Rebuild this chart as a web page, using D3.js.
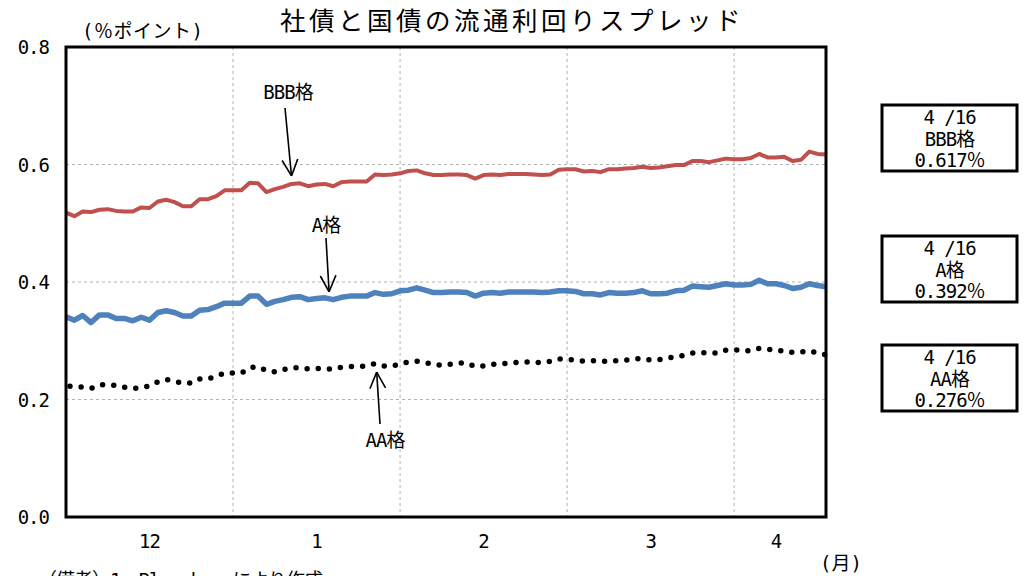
<!DOCTYPE html>
<html><head><meta charset="utf-8">
<script src="https://cdn.jsdelivr.net/npm/d3@7"></script>
<style>
body{margin:0;background:#fff}
svg text{font-family:"DejaVu Sans Mono","Noto Sans CJK JP",monospace;fill:#000}
</style>
</head><body>
<svg id="chart" width="1027" height="576"></svg>
<script>
// ---- data (business days, 12/1 .. 4/16) ----
const bbbSpread = [0.518,0.512,0.520,0.519,0.523,0.524,0.521,0.520,0.520,0.527,0.526,0.537,0.540,0.536,0.529,0.529,0.541,0.541,0.546,0.556,0.556,0.556,0.569,0.568,0.553,0.558,0.562,0.567,0.568,0.563,0.566,0.567,0.563,0.570,0.571,0.571,0.571,0.583,0.582,0.583,0.585,0.589,0.590,0.585,0.582,0.582,0.583,
0.583,0.582,0.576,0.582,0.583,0.582,0.584,0.584,0.584,0.583,0.582,0.583,0.591,0.592,0.592,0.588,0.589,0.587,0.592,0.592,0.593,0.594,0.596,0.594,0.595,0.597,0.599,0.599,0.606,0.606,0.604,0.607,0.610,0.609,0.609,0.611,0.618,0.612,0.612,0.613,0.606,0.608,0.622,0.618,0.617];
const aSpread = [0.341,0.335,0.343,0.331,0.344,0.344,0.338,0.338,0.334,0.340,0.335,0.348,0.351,0.348,0.342,0.342,0.352,0.353,0.358,0.364,0.364,0.364,0.376,0.376,0.362,0.367,0.370,0.374,0.375,0.370,0.372,0.373,0.370,0.374,0.376,0.376,0.376,0.382,0.379,0.380,0.385,0.386,0.390,0.386,0.382,0.382,0.383,
0.383,0.382,0.376,0.381,0.382,0.381,0.383,0.383,0.383,0.383,0.382,0.383,0.385,0.385,0.384,0.380,0.380,0.378,0.382,0.381,0.381,0.382,0.385,0.380,0.380,0.381,0.385,0.386,0.393,0.392,0.391,0.394,0.397,0.395,0.395,0.396,0.403,0.397,0.397,0.394,0.389,0.391,0.397,0.394,0.392];
const aaSpread = [0.223,0.222,0.221,0.219,0.225,0.225,0.224,0.221,0.219,0.220,0.223,0.230,0.234,0.231,0.228,0.228,0.235,0.235,0.240,0.245,0.245,0.245,0.254,0.256,0.249,0.247,0.251,0.254,0.254,0.252,0.253,0.252,0.252,0.255,0.256,0.256,0.257,0.261,0.257,0.257,0.260,0.264,0.265,0.263,0.260,0.258,
0.260,0.262,0.262,0.256,0.257,0.260,0.260,0.262,0.263,0.264,0.263,0.263,0.265,0.269,0.268,0.267,0.265,0.266,0.265,0.265,0.266,0.267,0.269,0.270,0.267,0.268,0.270,0.273,0.275,0.279,0.280,0.279,0.279,0.284,0.285,0.283,0.283,0.287,0.286,0.283,0.283,0.280,0.281,0.283,0.279,0.276];
const yTickValues = [0.0, 0.2, 0.4, 0.6, 0.8];
const monthLabels = ["12", "1", "2", "3", "4"];
const monthLabelIndex = [10, 30, 50, 70, 85];
const monthBoundaryIndex = [20, 40, 60, 80];
const latestDate = "4 /16";
const seriesNames = ["BBB格", "A格", "AA格"];
const latestValues = [0.617, 0.392, 0.276];

// ---- layout ----
const svg = d3.select("#chart");
const L = 66, R = 826, T = 47, B = 517;
const n = bbbSpread.length;
const x = d3.scaleLinear().domain([0, n - 1]).range([L, R]);
const y = d3.scaleLinear().domain([0, 0.8]).range([B, T]);
const FS = "19px", LS = "-1px";

// title
svg.append("text").attr("x", 512).attr("y", 30).attr("text-anchor", "middle")
  .style("font-family", "'Noto Sans CJK JP'").style("font-size", "25.5px").style("letter-spacing", "3.5px")
  .text("社債と国債の流通利回りスプレッド");
svg.append("text").attr("x", 82).attr("y", 38).style("font-size", "19px").style("letter-spacing", "0.5px")
  .text("(％ポイント)");

// grid
const g = svg.append("g");
g.selectAll("line.hg").data(yTickValues.filter(v => v > 0 && v < 0.8)).join("line")
  .attr("x1", L).attr("x2", R).attr("y1", d => y(d)).attr("y2", d => y(d))
  .attr("stroke", "#b0b0b0").attr("stroke-width", 1).attr("stroke-dasharray", "3,3");
g.selectAll("line.vg").data(monthBoundaryIndex).join("line")
  .attr("x1", d => x(d)).attr("x2", d => x(d)).attr("y1", T).attr("y2", B)
  .attr("stroke", "#b0b0b0").attr("stroke-width", 1).attr("stroke-dasharray", "3,3");

// y labels
svg.append("g").selectAll("text").data(yTickValues).join("text")
  .attr("x", 49).attr("y", d => y(d) + 7).attr("text-anchor", "end")
  .style("font-size", FS).style("letter-spacing", LS).text(d => d3.format(".1f")(d));
// x labels
svg.append("g").selectAll("text").data(monthLabels).join("text")
  .attr("x", (d, i) => x(monthLabelIndex[i])).attr("y", 548).attr("text-anchor", "middle")
  .style("font-size", FS).style("letter-spacing", LS).text(d => d);
svg.append("text").attr("x", 820).attr("y", 570).style("font-size", "19px").text("(月)");
svg.append("text").attr("x", 38).attr("y", 587).style("font-size", "19px").style("letter-spacing", LS)
  .text("（備考）1．Bloombergにより作成");

// series
const line = d3.line().x((d, i) => x(i)).y(d => y(d));
svg.append("path").datum(bbbSpread).attr("d", line).attr("fill", "none")
  .attr("stroke", "#C0504D").attr("stroke-width", 4).attr("stroke-linejoin", "round");
svg.append("path").datum(aSpread).attr("d", line).attr("fill", "none")
  .attr("stroke", "#4F81BD").attr("stroke-width", 5.5).attr("stroke-linejoin", "round");
svg.append("path").datum(aaSpread).attr("d", line).attr("fill", "none")
  .attr("stroke", "#000").attr("stroke-width", 5.5).attr("stroke-linecap", "round")
  .attr("stroke-dasharray", "0 11.15").attr("stroke-dashoffset", -4);

// frame
svg.append("rect").attr("x", L).attr("y", T).attr("width", R - L).attr("height", B - T)
  .attr("fill", "none").attr("stroke", "#000").attr("stroke-width", 3);

// annotations (arrow tip anchored on data point)
const annots = [
  {series: bbbSpread, idx: 27, label: "BBB格", lx: 288, ly: 99, sx: 285, sy: 108, off: -8},
  {series: aSpread, idx: 31.5, label: "A格", lx: 326, ly: 232, sx: 326, sy: 238, off: -7},
  {series: aaSpread, idx: 37.2, label: "AA格", lx: 385, ly: 447, sx: 380, sy: 424, off: 8}
];
annots.forEach(a => {
  const i0 = Math.floor(a.idx), f = a.idx - i0;
  const v = a.series[i0] * (1 - f) + a.series[Math.min(i0 + 1, n - 1)] * f;
  const tx = x(a.idx), ty = y(v) + a.off;
  const ag = svg.append("g").attr("stroke", "#000").attr("stroke-width", 1.6).attr("fill", "none");
  ag.append("line").attr("x1", a.sx).attr("y1", a.sy).attr("x2", tx).attr("y2", ty);
  const ang = Math.atan2(ty - a.sy, tx - a.sx);
  [0.45, -0.45].forEach(s => {
    ag.append("line").attr("x1", tx).attr("y1", ty)
      .attr("x2", tx - 18 * Math.cos(ang + s)).attr("y2", ty - 18 * Math.sin(ang + s));
  });
  svg.append("text").attr("x", a.lx).attr("y", a.ly).attr("text-anchor", "middle")
    .style("font-size", FS).style("letter-spacing", LS).text(a.label);
});

// latest-value boxes
const boxTops = [105, 236, 345];
seriesNames.forEach((name, i) => {
  const bg = svg.append("g").attr("transform", `translate(882,${boxTops[i]})`);
  bg.append("rect").attr("width", 135).attr("height", 66).attr("fill", "#fff")
    .attr("stroke", "#000").attr("stroke-width", 3);
  [latestDate, name, d3.format(".3f")(latestValues[i]) + "％"].forEach((t, k) => {
    bg.append("text").attr("x", 67.5).attr("y", 19 + k * 21.5).attr("text-anchor", "middle")
      .style("font-size", FS).style("letter-spacing", LS).text(t);
  });
});
</script>
</body></html>
